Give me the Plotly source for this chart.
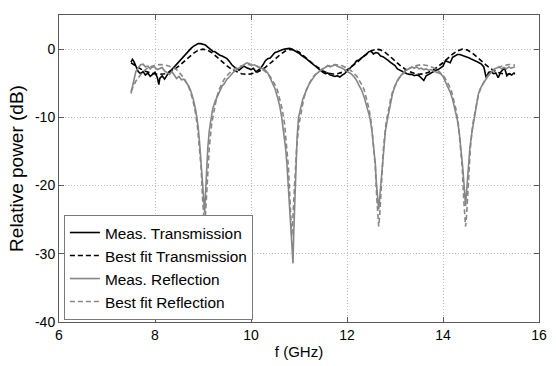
import plotly.graph_objects as go

# ---------------- data ----------------
f_tm = [7.50, 7.53, 7.56, 7.60, 7.65, 7.70, 7.75, 7.80, 7.85, 7.90, 7.95, 8.00, 8.05, 8.08, 8.10,
        8.15, 8.20, 8.25, 8.30, 8.35, 8.40, 8.45, 8.50, 8.55, 8.60, 8.65, 8.70, 8.75, 8.80, 8.85,
        8.90, 8.95, 9.00, 9.05, 9.10, 9.15, 9.20, 9.25, 9.30, 9.35, 9.40, 9.45, 9.50, 9.55, 9.60,
        9.65, 9.70, 9.75, 9.80, 9.85, 9.90, 9.95, 10.00, 10.05, 10.10, 10.15, 10.20, 10.25, 10.30,
        10.35, 10.40, 10.45, 10.50, 10.55, 10.60, 10.65, 10.70, 10.75, 10.80, 10.85, 10.90, 10.95,
        11.00, 11.05, 11.10, 11.15, 11.20, 11.25, 11.30, 11.35, 11.40, 11.45, 11.50, 11.55, 11.60,
        11.65, 11.70, 11.75, 11.80, 11.85, 11.90, 11.95, 12.00, 12.05, 12.10, 12.15, 12.20, 12.25,
        12.30, 12.35, 12.40, 12.45, 12.50, 12.55, 12.60, 12.65, 12.70, 12.75, 12.80, 12.85, 12.90,
        12.95, 13.00, 13.05, 13.10, 13.15, 13.20, 13.25, 13.30, 13.35, 13.40, 13.45, 13.50, 13.55,
        13.60, 13.65, 13.70, 13.75, 13.80, 13.85, 13.90, 13.95, 14.00, 14.05, 14.10, 14.15, 14.20,
        14.25, 14.30, 14.35, 14.40, 14.45, 14.50, 14.55, 14.60, 14.65, 14.70, 14.75, 14.80, 14.85,
        14.90, 14.95, 15.00, 15.05, 15.10, 15.15, 15.20, 15.25, 15.28, 15.33, 15.38, 15.43, 15.48,
        15.50]
meas_trans = [-1.9, -1.5, -1.8, -2.6, -3.3, -3.6, -3.3, -3.8, -3.5, -4.0, -3.7, -3.4, -4.2, -5.2, -4.3,
              -3.9, -4.4, -3.8, -3.3, -3.0, -2.6, -2.3, -1.8, -1.4, -1.0, -0.7, -0.3, 0.1, 0.4, 0.6,
              0.8, 0.8, 0.7, 0.6, 0.3, 0.0, -0.3, -0.4, -0.7, -0.9, -1.0, -1.2, -1.4, -1.8, -2.3,
              -2.6, -2.9, -3.1, -2.8, -2.5, -2.7, -2.9, -3.0, -2.8, -3.3, -3.1, -2.8, -2.3, -1.7,
              -1.4, -1.3, -0.9, -0.5, -0.4, -0.2, -0.1, 0.0, 0.1, 0.1, 0.0, -0.2, -0.3,
              -0.6, -0.9, -1.1, -1.4, -1.7, -2.0, -2.3, -2.6, -2.9, -3.2, -3.4, -3.6, -3.5,
              -3.8, -3.9, -4.0, -3.9, -4.1, -3.8, -3.6, -3.2, -2.9, -2.5, -2.2, -1.7, -1.6,
              -1.3, -1.1, -0.8, -0.4, -0.3, -0.7, -0.5, -0.6, -1.0, -1.1, -1.3, -1.6, -1.9,
              -2.2, -2.4, -2.9, -3.1, -3.3, -3.4, -3.6, -3.7, -3.7, -3.9, -3.8, -3.9, -4.3,
              -4.6, -3.9, -3.7, -3.4, -3.3, -3.1, -3.0, -2.7, -2.5, -1.7, -1.8, -2.0, -1.2,
              -1.0, -0.8, -0.8, -0.9, -1.0, -1.1, -1.3, -1.5, -1.6, -1.8, -2.0, -2.2, -2.6,
              -4.2, -3.4, -3.3, -3.6, -3.5, -4.2, -3.4, -3.0, -2.7, -3.9, -3.6, -3.8, -3.5,
              -3.6]

f_tf = [7.5, 7.6, 7.7, 7.8, 7.9, 8.0, 8.1, 8.2, 8.3, 8.4, 8.5, 8.6, 8.7, 8.8, 8.9, 9.0,
        9.1, 9.2, 9.3, 9.4, 9.5, 9.6, 9.7, 9.8, 9.9, 10.0, 10.1, 10.2, 10.3, 10.4, 10.5,
        10.6, 10.7, 10.8, 10.9, 11.0, 11.1, 11.2, 11.3, 11.4, 11.5, 11.6, 11.7, 11.8, 11.9,
        12.0, 12.1, 12.2, 12.3, 12.4, 12.5, 12.6, 12.7, 12.8, 12.9, 13.0, 13.1, 13.2, 13.3,
        13.4, 13.5, 13.6, 13.7, 13.8, 13.9, 14.0, 14.1, 14.2, 14.3, 14.4, 14.5, 14.6, 14.7,
        14.8, 14.9, 15.0, 15.1, 15.2, 15.3, 15.4, 15.5]
fit_trans = [-2.0, -2.5, -2.9, -3.25, -3.5, -3.65, -3.7, -3.6, -3.35, -2.98, -2.47, -1.88, -1.22, -0.61, -0.17, 0.0,
             -0.17, -0.61, -1.22, -1.88, -2.47, -2.98, -3.35, -3.6, -3.69, -3.63, -3.45, -3.13, -2.67, -2.12, -1.48,
             -0.85, -0.35, -0.05, -0.1, -0.43, -0.98, -1.62, -2.23, -2.78, -3.2, -3.5, -3.65, -3.62, -3.4,
             -3.05, -2.57, -2.0, -1.35, -0.73, -0.26, -0.01, -0.11, -0.52, -1.1, -1.75, -2.35, -2.88, -3.28,
             -3.55, -3.68, -3.62, -3.4, -3.05, -2.57, -2.0, -1.35, -0.73, -0.26, -0.01, -0.11, -0.52, -1.1,
             -1.75, -2.35, -2.88, -3.28, -3.55, -3.68, -3.68, -3.6]

f_rm = [7.50, 7.53, 7.56, 7.60, 7.65, 7.70, 7.75, 7.80, 7.85, 7.90, 7.95, 8.00, 8.05, 8.10, 8.15,
        8.20, 8.25, 8.30, 8.35, 8.40, 8.45, 8.50, 8.55, 8.60, 8.65, 8.70, 8.75, 8.80, 8.85, 8.90,
        8.93, 8.96, 8.99, 9.01, 9.035, 9.05, 9.07, 9.10, 9.13, 9.16, 9.20, 9.25, 9.30, 9.35, 9.40,
        9.44, 9.50, 9.57, 9.63, 9.70, 9.77, 9.84, 9.91, 9.96, 10.02, 10.07, 10.12, 10.16, 10.20,
        10.25, 10.30, 10.35, 10.40, 10.45, 10.50, 10.55, 10.60, 10.64, 10.68, 10.72, 10.75, 10.78,
        10.82, 10.85, 10.875, 10.89, 10.91, 10.93, 10.96, 10.99, 11.03, 11.08, 11.12, 11.17, 11.22,
        11.28, 11.34, 11.40, 11.46, 11.50, 11.55, 11.60, 11.65, 11.70, 11.75, 11.80, 11.85, 11.90,
        11.95, 12.00, 12.05, 12.10, 12.15, 12.20, 12.25, 12.31, 12.36, 12.41, 12.475, 12.52, 12.56,
        12.59, 12.61, 12.635, 12.66, 12.685, 12.71, 12.74, 12.77, 12.80, 12.85, 12.90, 12.95, 13.00,
        13.05, 13.10, 13.15, 13.20, 13.25, 13.30, 13.35, 13.40, 13.45, 13.50, 13.55, 13.60, 13.65,
        13.70, 13.75, 13.80, 13.85, 13.90, 13.95, 14.00, 14.05, 14.10, 14.15, 14.20, 14.25, 14.30,
        14.34, 14.38, 14.41, 14.44, 14.47, 14.495, 14.52, 14.56, 14.60, 14.66, 14.70, 14.74, 14.79,
        14.84, 14.89, 14.94, 14.98, 15.02, 15.07, 15.12, 15.17, 15.22, 15.27, 15.32, 15.37, 15.42,
        15.47, 15.50]
meas_refl = [-6.5, -5.5, -4.2, -3.3, -2.8, -2.3, -2.2, -2.6, -2.5, -2.9, -2.6, -2.7, -3.0, -2.8, -2.7,
             -3.2, -3.4, -3.7, -3.3, -3.9, -4.3, -4.0, -4.5, -4.4, -4.9, -5.4, -6.2, -7.4, -9.0, -11.5,
             -13.8, -16.8, -20.0, -22.5, -24.0, -21.5, -18.0, -14.5, -12.0, -10.4, -8.8, -7.7, -6.9, -6.0, -5.4,
             -5.1, -4.4, -3.9, -3.4, -3.0, -2.7, -2.3, -2.0, -2.1, -2.4, -2.3, -2.5, -2.6, -2.8,
             -3.0, -3.1, -3.5, -4.2, -4.9, -5.8, -7.0, -8.4, -10.0, -12.0, -14.5, -17.0, -20.5,
             -24.5, -28.5, -31.4, -27.0, -22.0, -17.5, -13.0, -10.0, -8.6, -7.3, -6.6, -5.8, -5.0,
             -4.4, -3.8, -3.4, -3.1, -2.9, -2.6, -2.4, -2.6, -2.4, -2.3, -2.5, -2.6, -2.8,
             -3.0, -3.2, -3.4, -3.7, -4.1, -4.6, -5.3, -6.1, -7.1, -8.4, -10.0, -12.0, -14.3,
             -16.8, -19.5, -21.5, -23.5, -21.5, -19.5, -16.5, -13.8, -12.0, -10.0, -8.1, -6.5, -5.4,
             -4.6, -4.1, -3.6, -3.2, -3.0, -2.8, -2.6, -2.8, -2.6, -2.9, -2.8, -3.0, -2.9,
             -3.1, -3.0, -3.2, -3.3, -3.4, -3.6, -4.0, -4.7, -5.4, -6.3, -7.4, -8.7, -10.4,
             -12.3, -14.8, -17.3, -20.0, -23.0, -20.5, -18.0, -14.5, -12.3, -10.0, -8.0, -6.5, -5.6,
             -5.0, -4.4, -3.9, -3.6, -3.2, -2.9, -2.8, -2.6, -2.9, -2.7, -2.9, -2.6, -2.8,
             -2.7, -2.6]

f_rf = [7.50, 7.60, 7.70, 7.80, 7.90, 8.00, 8.12, 8.25, 8.35, 8.45, 8.55, 8.63, 8.68, 8.73, 8.78,
        8.83, 8.88, 8.93, 8.96, 8.99, 9.01, 9.03, 9.05, 9.07, 9.10, 9.13, 9.18, 9.23, 9.28, 9.33,
        9.38, 9.43, 9.48, 9.58, 9.68, 9.80, 9.945, 10.10, 10.20, 10.30, 10.40, 10.45, 10.50, 10.55,
        10.60, 10.65, 10.70, 10.75, 10.78, 10.81, 10.83, 10.85, 10.87, 10.89, 10.92, 10.95, 11.00,
        11.05, 11.10, 11.15, 11.20, 11.25, 11.30, 11.40, 11.50, 11.62, 11.76, 11.90, 12.01, 12.11,
        12.21, 12.26, 12.31, 12.36, 12.41, 12.46, 12.51, 12.56, 12.59, 12.62, 12.64, 12.66, 12.68,
        12.70, 12.73, 12.76, 12.81, 12.86, 12.91, 12.96, 13.01, 13.06, 13.11, 13.21, 13.31, 13.43,
        13.565, 13.70, 13.82, 13.92, 14.02, 14.07, 14.12, 14.17, 14.22, 14.27, 14.32, 14.37, 14.40,
        14.43, 14.45, 14.47, 14.49, 14.51, 14.54, 14.57, 14.62, 14.67, 14.72, 14.77, 14.82, 14.87,
        14.92, 15.02, 15.12, 15.24, 15.38, 15.50]
fit_refl = [-6.2, -4.7, -3.75, -3.0, -2.6, -2.35, -2.25, -2.4, -2.65, -3.0, -3.8, -4.55, -5.25, -6.0, -7.25,
            -8.8, -11.0, -14.5, -17.3, -21.8, -24.5, -26.0, -24.5, -21.8, -17.3, -14.5, -11.0, -8.8, -7.25, -6.0,
            -5.25, -4.55, -4.03, -3.3, -2.8, -2.45, -2.25, -2.45, -2.8, -3.3, -4.03, -4.55, -5.25, -6.0,
            -7.25, -8.8, -11.0, -14.5, -17.3, -21.8, -25.0, -27.5, -25.0, -21.8, -17.3, -14.5, -11.0,
            -8.8, -7.25, -6.0, -5.25, -4.55, -4.03, -3.3, -2.8, -2.45, -2.25, -2.45, -2.8, -3.3,
            -4.03, -4.55, -5.25, -6.0, -7.25, -8.8, -11.0, -14.5, -17.3, -21.8, -24.5, -26.0, -24.5,
            -21.8, -17.3, -14.5, -11.0, -8.8, -7.25, -6.0, -5.25, -4.55, -4.03, -3.3, -2.8, -2.45,
            -2.25, -2.45, -2.8, -3.3, -4.03, -4.55, -5.25, -6.0, -7.25, -8.8, -11.0, -14.5, -17.3,
            -21.8, -24.5, -26.0, -24.5, -21.8, -17.3, -14.5, -11.0, -8.8, -7.25, -6.0, -5.25, -4.55,
            -4.03, -3.3, -2.8, -2.45, -2.25, -2.35]

series_names = ["Meas. Transmission", "Best fit Transmission", "Meas. Reflection", "Best fit Reflection"]
x_ticks = [6, 8, 10, 12, 14, 16]
y_ticks = [-40, -30, -20, -10, 0]

# ---------------- figure ----------------
FONT = "Liberation Sans, Arial, Helvetica, sans-serif"
BLACK = "#000000"
GRAY = "#868686"
AX = "#5a5a5a"

fig = go.Figure()
specs = [
    (f_tm, meas_trans, BLACK, "solid"),
    (f_tf, fit_trans, BLACK, "5px,3px"),
    (f_rm, meas_refl, GRAY, "solid"),
    (f_rf, fit_refl, GRAY, "5px,3px"),
]
for i, (xs, ys, col, dash) in enumerate(specs):
    fig.add_trace(go.Scatter(
        x=xs, y=ys, mode="lines", name=series_names[i], legendgroup=f"g{i}",
        line=dict(color=col, width=1.6, dash=dash),
    ))

axis_common = dict(
    showline=True, linecolor=AX, linewidth=1, mirror="ticks",
    ticks="inside", ticklen=5, tickcolor=AX, tickwidth=1,
    showgrid=True, gridcolor="#bdbdbd", griddash="1px,2px", gridwidth=1,
    zeroline=False, tickfont=dict(family=FONT, size=14, color="#000"),
)

fig.update_layout(
    width=556, height=366,
    margin=dict(l=59, r=9, t=15, b=43),
    paper_bgcolor="white", plot_bgcolor="white",
    font=dict(family=FONT, color="#000"),
    xaxis=dict(range=[6, 16], tickvals=x_ticks, ticktext=[str(v) for v in x_ticks],
               title=dict(text="f (GHz)", font=dict(family=FONT, size=15), standoff=4),
               **axis_common),
    yaxis=dict(range=[-40, 5], tickvals=y_ticks, ticktext=[str(v) for v in y_ticks],
               title=dict(text="Relative power (dB)", font=dict(family=FONT, size=19), standoff=6),
               **axis_common),
    legend=dict(
        x=0.0102, y=0.0065, xanchor="left", yanchor="bottom",
        bgcolor="white", bordercolor="#7a7a7a", borderwidth=1,
        font=dict(family=FONT, size=15.4, color="#000"),
        traceorder="grouped", tracegroupgap=0, itemwidth=30,
    ),
    showlegend=True,
)

fig.write_html(
    "out.html",
    config={"displayModeBar": False},
    post_script="document.body.style.margin='0';document.body.style.overflow='hidden';",
)
